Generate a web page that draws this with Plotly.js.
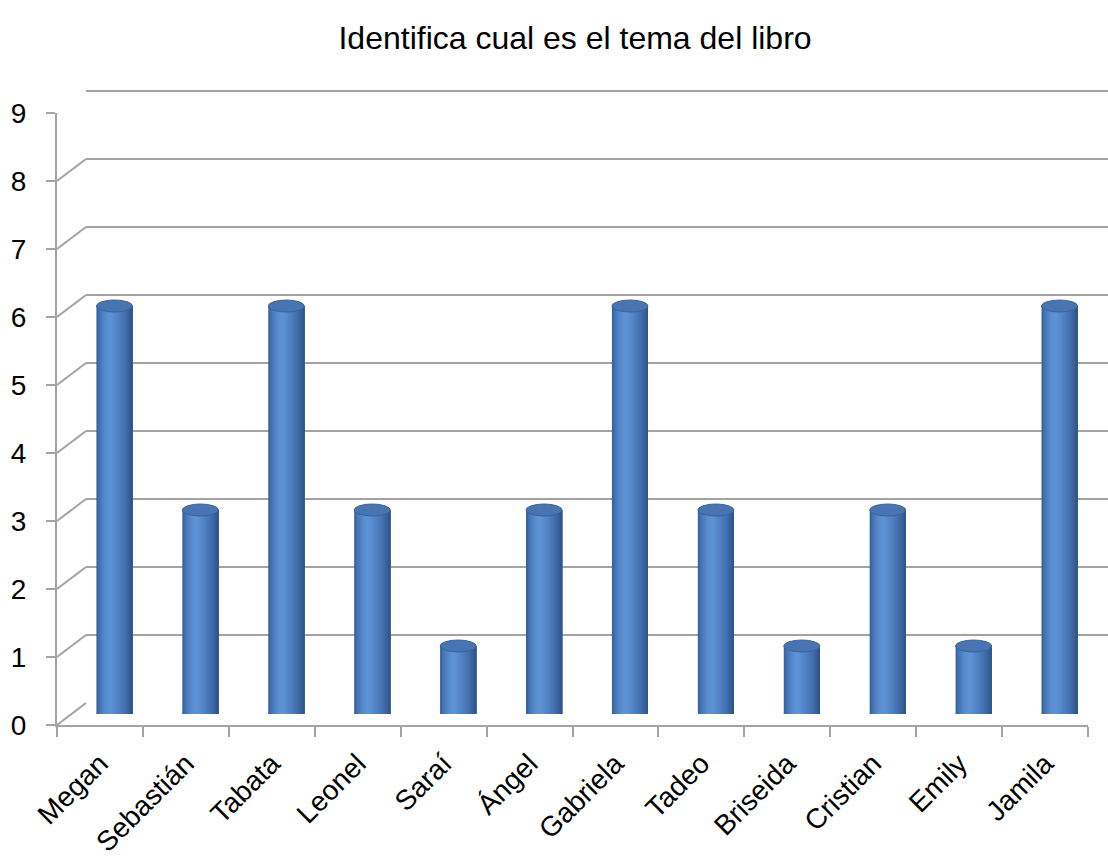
<!DOCTYPE html>
<html>
<head>
<meta charset="utf-8">
<script src="https://cdn.plot.ly/plotly-3.0.1.min.js"></script>
<style>html,body{margin:0;padding:0;background:#fff;}#chart{width:1108px;height:861px;}</style>
</head>
<body>
<div id="chart"></div>
<script>
// ---- data ----
var names = ['Megan','Sebastián','Tabata','Leonel','Saraí','Ángel','Gabriela','Tadeo','Briseida','Cristian','Emily','Jamila'];
var values = [6,3,6,3,1,3,6,3,1,3,1,6];
var yTicks = [0,1,2,3,4,5,6,7,8,9];
var titleText = 'Identifica cual es el tema del libro';

// ---- geometry (pixels) ----
var W = 1108, H = 861;
var pLeft = 57, pRight = 1088, pBottom = 725, pTop = 113;
var depthX = 29, depthY = 22;
var nCat = names.length;
var catPx = (pRight - pLeft) / nCat;
var yMax = 9;
var unitPx = (pBottom - pTop) / yMax;
var backExtra = 0.3; // extra range so the top back gridline is not dropped
function fx(p){ return p / W; }
function fy(p){ return 1 - p / H; }

var gridCol = '#a3a3a3';
var barW = 0.42;

// cylinder shading stops (left -> right)
var stops = [
  [0.00, [52, 92, 148]],
  [0.08, [68, 114, 178]],
  [0.25, [88, 140, 207]],
  [0.40, [94, 147, 214]],
  [0.58, [82, 132, 198]],
  [0.78, [68, 112, 175]],
  [0.92, [55, 95, 152]],
  [1.00, [45, 80, 130]]
];
function colAt(t){
  for (var i = 1; i < stops.length; i++) {
    if (t <= stops[i][0]) {
      var a = stops[i-1], b = stops[i];
      var f = (t - a[0]) / (b[0] - a[0]);
      var c = a[1].map(function(v, k){ return Math.round(v + (b[1][k] - v) * f); });
      return 'rgb(' + c.join(',') + ')';
    }
  }
  return 'rgb(45,80,130)';
}

var traces = [];
// front axes subplot anchor trace (invisible)
traces.push({type:'scatter', x:names, y:values.map(function(){return null;}), xaxis:'x', yaxis:'y', hoverinfo:'skip', showlegend:false});
// back wall subplot (grid only)
traces.push({type:'scatter', x:[], y:[], xaxis:'x2', yaxis:'y2', hoverinfo:'skip', showlegend:false});

var nStrips = 20;
for (var s = 0; s < nStrips; s++) {
  var t0 = s / nStrips;
  traces.push({
    type:'bar', x:names, y:values, xaxis:'x3', yaxis:'y3',
    width: barW * (1 - t0),
    offset: -barW/2 + t0 * barW,
    marker:{color: colAt((s + 0.5) / nStrips), line:{width:0}},
    hoverinfo:'skip', showlegend:false
  });
}

var shapes = [];
// diagonals from front axis to back wall
yTicks.forEach(function(v){
  shapes.push({type:'line', xref:'x', yref:'y', xsizemode:'pixel', ysizemode:'pixel',
    xanchor:-0.5, yanchor:v, x0:0, x1:depthX, y0:0, y1:depthY,
    line:{color:gridCol, width:2}});
});
shapes.push({type:'line', xref:'x', yref:'y', xsizemode:'pixel', ysizemode:'pixel',
  xanchor:nCat - 0.5, yanchor:0, x0:0, x1:depthX, y0:0, y1:depthY,
  line:{color:gridCol, width:2}});

// cylinder bottoms and tops
values.forEach(function(v, i){
  shapes.push({type:'circle', xref:'x3', yref:'y3', ysizemode:'pixel', yanchor:0,
    x0:i - barW/2, x1:i + barW/2, y0:-6, y1:6, layer:'below',
    fillcolor:'rgb(72,118,182)', line:{width:0}});
  shapes.push({type:'circle', xref:'x3', yref:'y3', ysizemode:'pixel', yanchor:v,
    x0:i - barW/2, x1:i + barW/2, y0:-6, y1:6,
    fillcolor:'rgb(72,116,178)', line:{color:'rgb(58,98,156)', width:1}});
});

var backLeft = pLeft + depthX;
var backBottom = pBottom - depthY;
var layout = {
  width: W, height: H,
  margin:{l:0, r:0, t:0, b:0},
  paper_bgcolor:'#ffffff', plot_bgcolor:'rgba(0,0,0,0)',
  showlegend:false,
  barmode:'overlay',
  font:{family:'"Liberation Sans", Arial, sans-serif', color:'#000'},
  title:{text:titleText, x:0.519, xanchor:'center', y:fy(38), yanchor:'middle',
         font:{size:32, color:'#000', family:'"Liberation Sans", Arial, sans-serif'}},
  xaxis:{domain:[fx(pLeft), fx(pRight)], type:'category', categoryorder:'array', categoryarray:names,
    range:[-0.5, nCat - 0.5], fixedrange:true, automargin:false,
    showline:true, linecolor:gridCol, linewidth:2,
    ticks:'outside', tickson:'boundaries', ticklen:10, tickwidth:2, tickcolor:gridCol, ticklabelstandoff:9,
    tickangle:-45, tickfont:{size:28, color:'#000'}, showgrid:false, zeroline:false, anchor:'y'},
  yaxis:{domain:[fy(pBottom), fy(pTop)], range:[0, yMax], fixedrange:true, automargin:false,
    tickvals:yTicks, ticktext:yTicks.map(String),
    showline:true, linecolor:gridCol, linewidth:2,
    ticks:'outside', ticklen:9, tickwidth:2, tickcolor:gridCol, ticklabelstandoff:14,
    tickfont:{size:28, color:'#000'}, showgrid:false, zeroline:false, anchor:'x'},
  xaxis2:{domain:[fx(backLeft), 1], range:[-0.5, -0.5 + (W - backLeft) / catPx],
    visible:false, fixedrange:true, anchor:'y2'},
  yaxis2:{domain:[fy(backBottom), fy(backBottom - (yMax + backExtra) * unitPx)], range:[0, yMax + backExtra], tickvals:yTicks,
    showgrid:true, gridcolor:gridCol, gridwidth:2, zeroline:false,
    showticklabels:false, ticks:'', showline:false, fixedrange:true, anchor:'x2'},
  xaxis3:{domain:[fx(pLeft + depthX/2), fx(pRight + depthX/2)], type:'category', categoryorder:'array', categoryarray:names,
    range:[-0.5, nCat - 0.5], visible:false, fixedrange:true, anchor:'y3'},
  yaxis3:{domain:[fy(pBottom - depthY/2), fy(pTop - depthY/2)], range:[0, yMax],
    visible:false, fixedrange:true, anchor:'x3'},
  shapes: shapes
};

Plotly.newPlot('chart', traces, layout, {displayModeBar:false, staticPlot:true});
</script>
</body>
</html>
